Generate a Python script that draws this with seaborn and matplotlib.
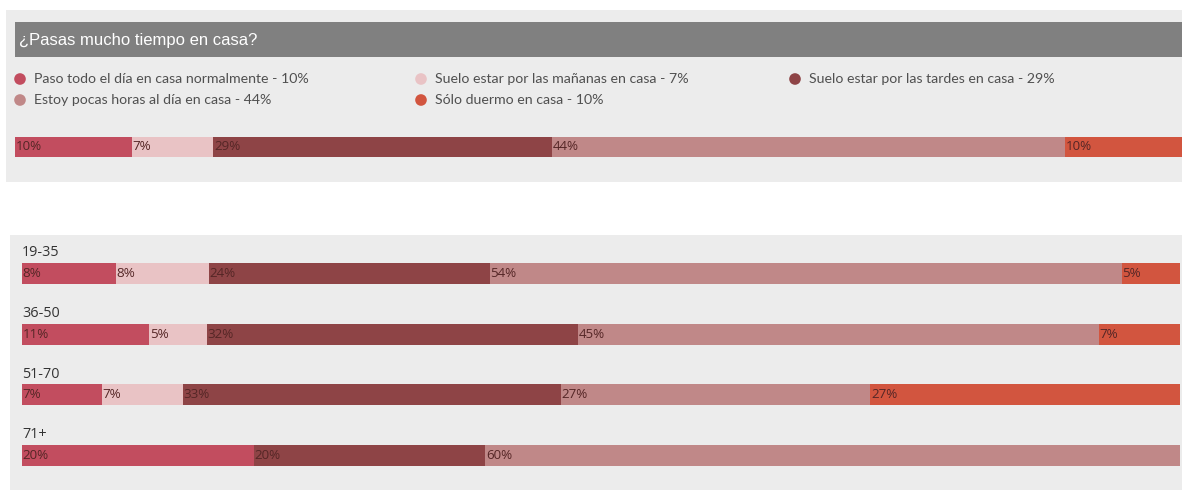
import matplotlib
matplotlib.use("Agg")
import matplotlib.pyplot as plt
from matplotlib import font_manager
from matplotlib.patches import Rectangle
import numpy as np
import pandas as pd
import seaborn as sns

# ---- data -------------------------------------------------------------
title = "¿Pasas mucho tiempo en casa?"
categories = [
    "Paso todo el día en casa normalmente",
    "Suelo estar por las mañanas en casa",
    "Suelo estar por las tardes en casa",
    "Estoy pocas horas al día en casa",
    "Sólo duermo en casa",
]
overall = [10, 7, 29, 44, 10]
age_groups = ["19-35", "36-50", "51-70", "71+"]
age_19_35 = [8, 8, 24, 54, 5]
age_36_50 = [11, 5, 32, 45, 7]
age_51_70 = [7, 7, 33, 27, 27]
age_71_plus = [20, 0, 20, 60, 0]

palette = ["#c24d5f", "#e9c3c5", "#8e4446", "#c08888", "#d2553f"]
label_color = "#552626"

# ---- fonts ------------------------------------------------------------
sns.set_theme(style="white")
available = {f.name for f in font_manager.fontManager.ttflist}
title_font = "Liberation Sans Narrow" if "Liberation Sans Narrow" in available else "Liberation Sans"
body_font = "Lato"
plt.rcParams["font.family"] = [body_font, "DejaVu Sans"]

W, H = 1182, 493
fig = plt.figure(figsize=(W / 100, H / 100), dpi=100)
fig.patch.set_facecolor("white")


def px_axes(x0, y0, x1, y1, **kw):
    """Axes placed by pixel box (origin top-left)."""
    return fig.add_axes([x0 / W, 1 - y1 / H, (x1 - x0) / W, (y1 - y0) / H], **kw)


# background canvas for panels, title strip and legend
bg = px_axes(0, 0, W, H, zorder=0)
bg.set_xlim(0, W)
bg.set_ylim(H, 0)
bg.axis("off")
bg.add_patch(Rectangle((6, 10), W - 6, 172, color="#ececec", lw=0))
bg.add_patch(Rectangle((15, 22), W - 15, 35, color="#808080", lw=0))
bg.add_patch(Rectangle((10, 235), W - 10, 255, color="#ececec", lw=0))
bg.text(19, 40, title, color="white", fontsize=12, family=[title_font, "DejaVu Sans"],
        va="center", ha="left")

# legend laid out row by row in three columns
legend_pos = [(20, 79), (421, 79), (795, 79), (20, 100), (421, 100)]
for (lx, ly), name, val, col in zip(legend_pos, categories, overall, palette):
    bg.scatter([lx], [ly], s=70, color=col, edgecolor="none")
    bg.text(lx + 14, ly, f"{name} - {val}%", fontsize=10.2, color="#505050",
            va="center", ha="left")


def stacked_row(ax, groups, rows, bar_width):
    """Draw 100% stacked horizontal bars with seaborn, one layer per category."""
    data = np.array(rows, dtype=float)
    shares = data / data.sum(axis=1, keepdims=True) * 100
    ends = np.cumsum(shares, axis=1)
    starts = ends - shares
    for k in range(len(categories) - 1, -1, -1):
        df = pd.DataFrame({"group": groups, "end": ends[:, k]})
        sns.barplot(data=df, x="end", y="group", orient="h", color=palette[k],
                    width=bar_width, saturation=1, ax=ax, linewidth=0)
    for i in range(len(groups)):
        for k in range(len(categories)):
            if data[i, k] > 0:
                ax.text(starts[i, k] + 0.05, i, f"{int(data[i, k])}%", fontsize=9.6,
                        color=label_color, va="center", ha="left",
                        family=["Open Sans", "DejaVu Sans"])
    ax.set_xlim(0, 100)
    ax.set_ylim(len(groups) - 0.5, -0.5)
    ax.axis("off")
    return ax


# overall bar
ax_top = px_axes(15, 137, W, 157, zorder=2)
ax_top.patch.set_alpha(0)
stacked_row(ax_top, ["Total"], [overall], 1.0)

# bars by age group
ax_age = px_axes(22, 243, 1180, 486, zorder=2)
ax_age.patch.set_alpha(0)
stacked_row(ax_age, age_groups, [age_19_35, age_36_50, age_51_70, age_71_plus], 0.346)
for i, g in enumerate(age_groups):
    ax_age.text(0, i - 0.34, g, fontsize=10.4, color="#333333", va="center", ha="left",
                family=["Open Sans", "DejaVu Sans"])

fig.savefig("out.png", dpi=100, facecolor="white")
